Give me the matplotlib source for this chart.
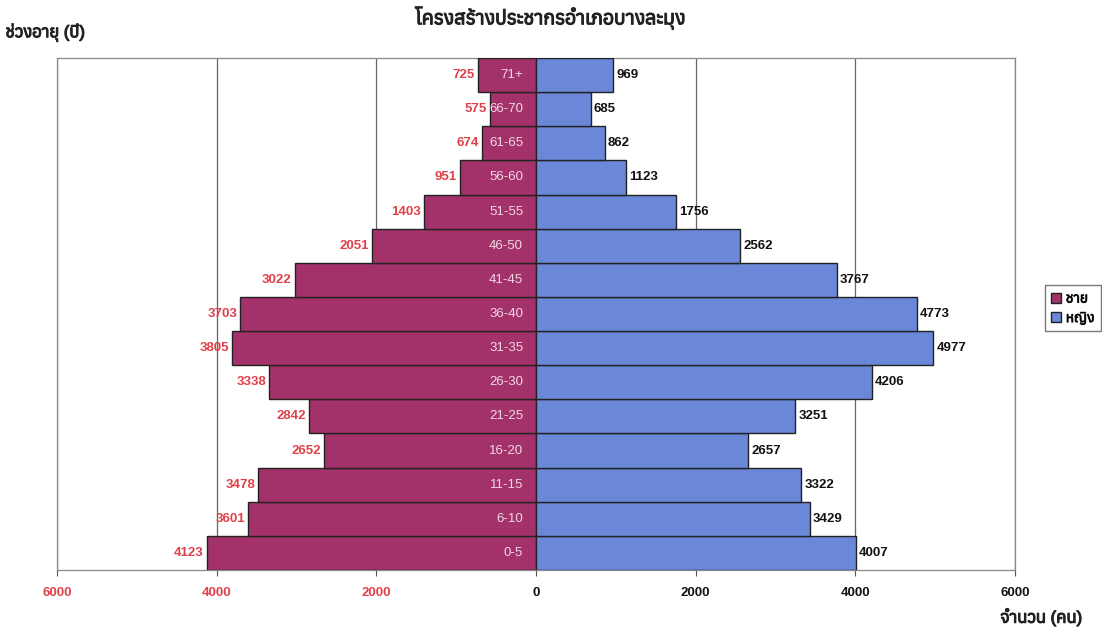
import numpy as np
import matplotlib
matplotlib.use("Agg")
import matplotlib.pyplot as plt
import matplotlib.patheffects as pe
from matplotlib import font_manager
from matplotlib.ft2font import FT2Font
from matplotlib.patches import Patch

# pick an installed font that carries Thai glyphs, used as fallback after Liberation Sans
thai_fonts = []
for path in font_manager.findSystemFonts():
    try:
        if 0x0E01 in FT2Font(path).get_charmap():
            thai_fonts.append(font_manager.FontProperties(fname=path).get_name())
    except Exception:
        pass
plt.rcParams['font.family'] = ['Liberation Sans'] + sorted(set(thai_fonts)) + ['DejaVu Sans']

ages = ['0-5', '6-10', '11-15', '16-20', '21-25', '26-30', '31-35', '36-40',
        '41-45', '46-50', '51-55', '56-60', '61-65', '66-70', '71+']
male = [4123, 3601, 3478, 2652, 2842, 3338, 3805, 3703,
        3022, 2051, 1403, 951, 674, 575, 725]
female = [4007, 3429, 3322, 2657, 3251, 4206, 4977, 4773,
          3767, 2562, 1756, 1123, 862, 685, 969]
ticks = [-6000, -4000, -2000, 0, 2000, 4000, 6000]

male_color = '#A3326A'
female_color = '#6A87D8'
red = '#E0404A'
# thicken Thai strings, the Thai face has no bold weight
heavy = [pe.withStroke(linewidth=0.8, foreground='#222222')]

fig = plt.figure(figsize=(11.02, 6.28), dpi=100)
ax = fig.add_axes([0.0517, 0.0924, 0.8693, 0.8152])

y = np.arange(len(ages))
ax.barh(y, [-m for m in male], height=1.0, color=male_color, edgecolor='#222222', linewidth=1.0, zorder=3)
ax.barh(y, female, height=1.0, color=female_color, edgecolor='#222222', linewidth=1.0, zorder=3)

for i in range(len(ages)):
    ax.text(-male[i] - 40, y[i], str(male[i]), ha='right', va='center',
            color=red, fontsize=9.5, fontweight='bold', zorder=4)
    ax.text(female[i] + 40, y[i], str(female[i]), ha='left', va='center',
            color='#111111', fontsize=9.5, fontweight='bold', zorder=4)
    ax.text(-160, y[i], ages[i], ha='right', va='center',
            color='#F2D8E4', fontsize=9.5, zorder=4)

ax.set_xlim(-6000, 6000)
ax.set_ylim(-0.5, len(ages) - 0.5)
ax.set_yticks([])
ax.set_xticks(ticks)
ax.set_xticklabels([str(abs(t)) for t in ticks], fontsize=9.5, fontweight='bold')
for lab, t in zip(ax.get_xticklabels(), ticks):
    lab.set_color(red if t < 0 else '#111111')
ax.tick_params(axis='x', length=4, color='#555555', pad=8)
ax.grid(axis='x', color='#666666', linewidth=0.9, zorder=0)
for s in ax.spines.values():
    s.set_color('#888888')
    s.set_linewidth(0.9)

fig.text(0.50, 0.971, 'โครงสร้างประชากรอำเภอบางละมุง', ha='center', va='center',
         fontsize=14, color='#222222', path_effects=heavy)
fig.text(0.005, 0.948, 'ช่วงอายุ (ปี)', ha='left', va='center',
         fontsize=12, color='#222222', path_effects=heavy)
fig.text(0.982, 0.018, 'จำนวน (คน)', ha='right', va='center',
         fontsize=12, color='#222222', path_effects=heavy)

handles = [Patch(facecolor=male_color, edgecolor='#222222', label='ชาย'),
           Patch(facecolor=female_color, edgecolor='#222222', label='หญิง')]
leg = fig.legend(handles=handles, loc='center', bbox_to_anchor=(0.9735, 0.509),
                 fontsize=10, frameon=True, fancybox=False, edgecolor='#555555',
                 handlelength=0.7, handleheight=0.7, handletextpad=0.35,
                 borderpad=0.45, labelspacing=0.4, borderaxespad=0)
for t in leg.get_texts():
    t.set_path_effects([pe.withStroke(linewidth=0.6, foreground='#222222')])

fig.savefig('out.png', dpi=100)
